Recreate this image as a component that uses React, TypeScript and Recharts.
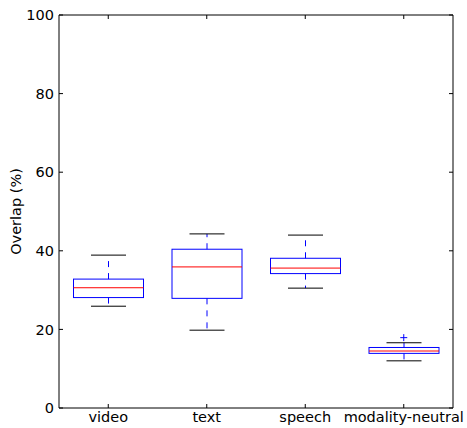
import { ComposedChart, Bar, Scatter, XAxis, YAxis } from "recharts";

const categories = ["video", "text", "speech", "modality-neutral"];
const whiskerLow = [25.9, 19.8, 30.5, 12.0];
const q1 = [28.1, 27.9, 34.2, 13.9];
const median = [30.6, 35.9, 35.6, 14.5];
const q3 = [32.8, 40.4, 38.1, 15.4];
const whiskerHigh = [38.9, 44.3, 44.0, 16.6];
const fliers = [null, null, null, 17.9];
const yTicks = [0, 20, 40, 60, 80, 100];

const rows = categories.map((name, i) => ({
  name,
  range: [whiskerLow[i], whiskerHigh[i]],
  low: whiskerLow[i],
  high: whiskerHigh[i],
  q1: q1[i],
  median: median[i],
  q3: q3[i],
  flier: fliers[i],
}));

const font = "DejaVu Sans, sans-serif";
const fontSize = 14.5;

function BoxShape(props: any) {
  const { x, y, width, height, payload } = props;
  const { low, high } = payload;
  const py = (v: number) => y + (height * (high - v)) / (high - low);
  const cx = x + width / 2;
  const bw = 70;
  const cw = 35;
  const yq1 = py(payload.q1);
  const yq3 = py(payload.q3);
  const ymed = py(payload.median);
  const ylo = py(low);
  const yhi = py(high);
  return (
    <g>
      <line x1={cx} x2={cx} y1={yq3} y2={yhi} stroke="#0000ff" strokeDasharray="6 6" />
      <line x1={cx} x2={cx} y1={yq1} y2={ylo} stroke="#0000ff" strokeDasharray="6 6" />
      <line x1={cx - cw / 2} x2={cx + cw / 2} y1={yhi} y2={yhi} stroke="#000" />
      <line x1={cx - cw / 2} x2={cx + cw / 2} y1={ylo} y2={ylo} stroke="#000" />
      <rect x={cx - bw / 2} y={yq3} width={bw} height={yq1 - yq3} fill="none" stroke="#0000ff" />
      <line x1={cx - bw / 2} x2={cx + bw / 2} y1={ymed} y2={ymed} stroke="#ff0000" />
    </g>
  );
}

function PlusShape(props: any) {
  const { cx, cy } = props;
  if (cx == null || cy == null) return null;
  return (
    <g stroke="#0000ff">
      <line x1={cx - 3.5} x2={cx + 3.5} y1={cy} y2={cy} />
      <line x1={cx} x2={cx} y1={cy - 3.5} y2={cy + 3.5} />
    </g>
  );
}

const Nothing = () => null;

export default function App() {
  return (
    <div style={{ position: "absolute", left: 0, top: 0, width: 467, height: 428, background: "#fff" }}>
      <ComposedChart
        width={467}
        height={428}
        data={rows}
        margin={{ top: 14, right: 13, bottom: 0, left: 0 }}
        barCategoryGap="0%"
      >
        <XAxis
          dataKey="name"
          height={20}
          tickSize={-4}
          tickMargin={8}
          stroke="#000"
          tick={{ fill: "#000", fontSize, fontFamily: font }}
          interval={0}
        />
        <XAxis
          xAxisId="top"
          dataKey="name"
          orientation="top"
          height={1}
          tickSize={-4}
          tickFormatter={() => ""}
          stroke="#000"
          interval={0}
        />
        <YAxis
          domain={[0, 100]}
          ticks={yTicks}
          width={59}
          tickSize={-4}
          tickMargin={9}
          stroke="#000"
          tick={{ fill: "#000", fontSize, fontFamily: font }}
          label={{
            value: "Overlap (%)",
            angle: -90,
            position: "insideLeft",
            offset: 16,
            textAnchor: "middle",
            fill: "#000",
            fontSize,
            fontFamily: font,
          }}
        />
        <YAxis
          yAxisId="right"
          orientation="right"
          domain={[0, 100]}
          ticks={yTicks}
          width={1}
          tickSize={-4}
          tickFormatter={() => ""}
          stroke="#000"
        />
        <Bar dataKey="range" shape={<BoxShape />} isAnimationActive={false} />
        <Scatter dataKey="flier" shape={<PlusShape />} isAnimationActive={false} />
        <Scatter
          dataKey="median"
          xAxisId="top"
          yAxisId="right"
          shape={<Nothing />}
          isAnimationActive={false}
        />
      </ComposedChart>
    </div>
  );
}
